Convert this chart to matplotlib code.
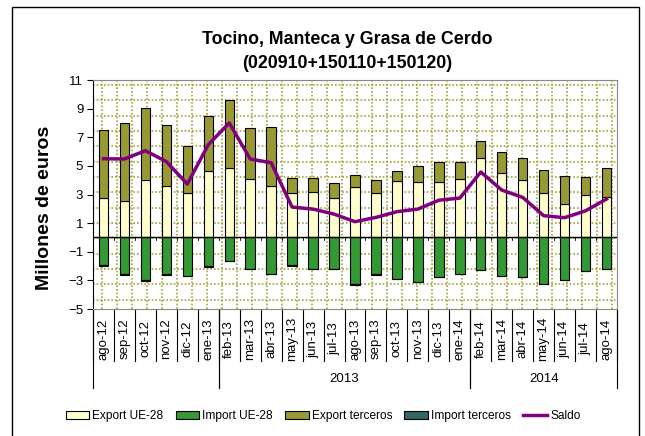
import matplotlib
matplotlib.use("Agg")
import matplotlib.pyplot as plt
import numpy as np
from matplotlib.patches import Patch, Rectangle
from matplotlib.lines import Line2D

plt.rcParams["font.family"] = ["Liberation Sans", "DejaVu Sans"]

months = ["ago-12", "sep-12", "oct-12", "nov-12", "dic-12", "ene-13",
          "feb-13", "mar-13", "abr-13", "may-13", "jun-13", "jul-13",
          "ago-13", "sep-13", "oct-13", "nov-13", "dic-13", "ene-14",
          "feb-14", "mar-14", "abr-14", "may-14", "jun-14", "jul-14", "ago-14"]
year_groups = [("", 0, 6), ("2013", 6, 18), ("2014", 18, 25)]

export_ue = [2.75, 2.54, 4.03, 3.59, 3.10, 4.64, 4.85, 4.08, 3.59, 3.10, 3.17, 2.75,
             3.52, 3.10, 3.94, 3.87, 3.87, 4.08, 5.52, 4.50, 4.00, 3.10, 2.33, 2.96, 2.82]
export_terceros = [4.75, 5.46, 5.01, 4.27, 3.29, 3.84, 4.75, 3.57, 4.11, 1.05, 0.98, 1.05,
                   0.84, 0.90, 0.70, 1.10, 1.40, 1.19, 1.19, 1.47, 1.52, 1.61, 1.94, 1.24, 2.01]
import_ue = [-1.95, -2.57, -3.00, -2.58, -2.67, -2.03, -1.66, -2.18, -2.54, -1.93, -2.18, -2.19,
             -3.28, -2.58, -2.88, -3.10, -2.75, -2.54, -2.26, -2.66, -2.73, -3.23, -2.95, -2.33, -2.19]
import_terceros = [-0.03, -0.03, -0.03, -0.03, -0.03, -0.03, -0.02, -0.03, -0.03, -0.07, -0.06, -0.03,
                   -0.03, -0.03, -0.03, -0.03, -0.03, -0.03, -0.03, -0.03, -0.03, -0.03, -0.03, -0.03, -0.03]
saldo = [5.50, 5.48, 6.06, 5.30, 3.73, 6.48, 8.00, 5.48, 5.22, 2.12, 1.98, 1.63,
         1.10, 1.40, 1.80, 1.98, 2.60, 2.75, 4.57, 3.31, 2.80, 1.52, 1.38, 1.86, 2.68]

C_EXP_UE = "#ffffcc"
C_IMP_UE = "#339933"
C_EXP_3 = "#999933"
C_IMP_3 = "#336666"
C_SALDO = "#800080"
C_GRID = "#a3a33a"

fig = plt.figure(figsize=(6.45, 4.36), dpi=100)
fig.patches.append(Rectangle((12 / 645, -0.01), 627 / 645, 1 - 7 / 436 + 0.01,
                             transform=fig.transFigure, fill=False,
                             edgecolor="black", linewidth=1.0))

ax = fig.add_axes([93 / 645, 1 - 309 / 436, 524 / 645, 229 / 436])
x = np.arange(len(months))
w = 0.45

# dotted background pattern with fixed pixel spacing, like the original plot-area fill
for fx in np.arange(8.7, 524, 15.0) / 524:
    ax.axvline(fx * len(months) - 0.5, color=C_GRID, ls=(0, (1, 1.2)), lw=1.2, zorder=0)
for gy in np.linspace(-4.36, 10.65, 15):
    ax.axhline(gy, color=C_GRID, ls=(0, (1, 1.2)), lw=1.2, zorder=0)

ax.bar(x, export_ue, w, color=C_EXP_UE, edgecolor="black", lw=0.8, zorder=2)
ax.bar(x, export_terceros, w, bottom=export_ue, color=C_EXP_3, edgecolor="black", lw=0.8, zorder=2)
ax.bar(x, import_ue, w, color=C_IMP_UE, edgecolor="black", lw=0.8, zorder=2)
ax.bar(x, import_terceros, w, bottom=import_ue, color=C_IMP_3, edgecolor="black", lw=0.8, zorder=2)
ax.axhline(0, color="black", lw=1.0, zorder=3)
for b in np.arange(len(months) + 1) - 0.5:
    ax.plot([b, b], [0, -0.15], color="black", lw=0.6, zorder=3)
ax.plot(x, saldo, color=C_SALDO, lw=2.5, zorder=4, solid_joinstyle="round")

ax.set_xlim(-0.5, len(months) - 0.5)
ax.set_ylim(-5, 11)
ax.set_yticks(np.arange(-5, 12, 2))
ax.tick_params(axis="y", labelsize=9.5, length=4, width=0.8, pad=3)
ax.set_xticks([])
for s in ["top", "right", "bottom"]:
    ax.spines[s].set_color("#888888")
ax.spines["left"].set_color("black")

# multi-level category axis
tr = ax.get_xaxis_transform()
for i, m in enumerate(months):
    ax.text(i, -0.131, m, rotation=90, ha="center", va="center", fontsize=9.5,
            transform=tr, clip_on=False)
for i in range(len(months) + 1):
    ax.plot([i - 0.5, i - 0.5], [0, -0.227], color="black", lw=0.8, transform=tr, clip_on=False)
for label, a, b in year_groups:
    for e in (a, b):
        ax.plot([e - 0.5, e - 0.5], [0, -0.345], color="black", lw=0.8, transform=tr, clip_on=False)
    if label:
        ax.text((a + b - 1) / 2, -0.306, label, ha="center", va="center", fontsize=9.5,
                transform=tr, clip_on=False)

fig.text(45 / 645, 1 - 208 / 436, "Millones de euros", rotation=90, ha="center", va="center",
         fontsize=14, fontweight="bold")
fig.text(347 / 645, 1 - 40 / 436, "Tocino, Manteca y Grasa de Cerdo", ha="center", va="center",
         fontsize=12.8, fontweight="bold")
fig.text(347 / 645, 1 - 63 / 436, "(020910+150110+150120)", ha="center", va="center",
         fontsize=12.8, fontweight="bold")

handles = [Patch(facecolor=C_EXP_UE, edgecolor="black", lw=0.8, label="Export UE-28"),
           Patch(facecolor=C_IMP_UE, edgecolor="black", lw=0.8, label="Import UE-28"),
           Patch(facecolor=C_EXP_3, edgecolor="black", lw=0.8, label="Export terceros"),
           Patch(facecolor=C_IMP_3, edgecolor="black", lw=0.8, label="Import terceros"),
           Line2D([0], [0], color=C_SALDO, lw=2.5, label="Saldo")]
fig.legend(handles=handles, loc="center", bbox_to_anchor=(323 / 645, 1 - 416 / 436), ncol=5,
           frameon=False, fontsize=8.6, handlelength=2.0, handleheight=0.7,
           handletextpad=0.25, columnspacing=1.0)

fig.savefig("out.png", dpi=100)
